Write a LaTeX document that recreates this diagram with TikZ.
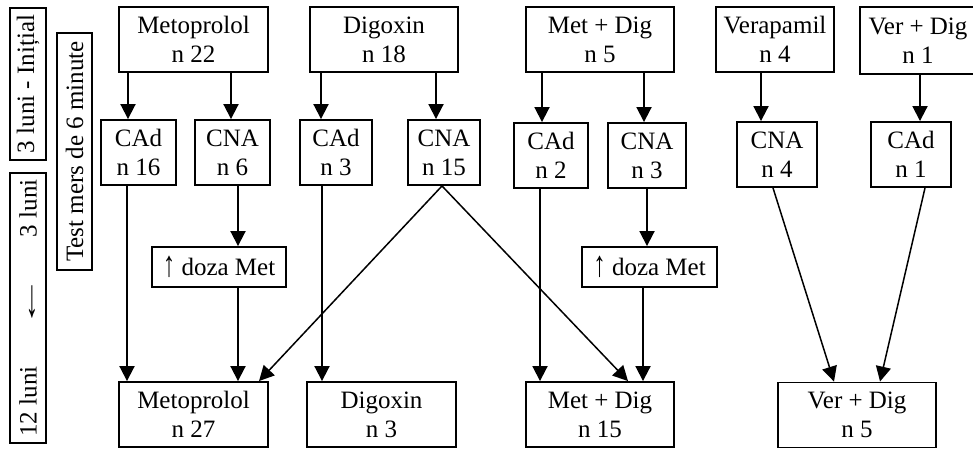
\documentclass[tikz,border=0pt]{standalone}
\usepackage{fontspec}
\usepackage{graphicx}
\setmainfont{Liberation Serif}
\usetikzlibrary{arrows.meta}
\newcommand{\dfont}{\fontsize{25pt}{29pt}\selectfont}
\newcommand{\uparr}{\raisebox{-1pt}{\scalebox{1}[1.45]{↑}}}
\newcommand{\leftarr}{\scalebox{2.2}[1]{←}}
\tikzset{
  box/.style={draw, line width=1.9pt, inner sep=0pt, align=center, font=\dfont},
  arr/.style={line width=1.9pt, -{Triangle[width=15pt,length=15pt]}},
  darr/.style={line width=1.5pt, -{Triangle[width=15pt,length=15pt]}}
}
\begin{document}
\begin{tikzpicture}[x=1pt,y=-1pt]
\useasboundingbox (0,0) rectangle (973,448);
% side labels
\node[box, rotate=90, minimum width=152pt, minimum height=36pt] (ini) at (28,84) {3 luni - Inițial};
\node[box, rotate=90, minimum width=270pt, minimum height=36pt] (luni) at (28,308) {\makebox[257pt]{12 luni\hfill \leftarr\hfill 3 luni}};
\node[box, rotate=90, minimum width=237pt, minimum height=35pt] (test) at (74.5,151.5) {Test mers de 6 minute};
% top row
\node[box, minimum width=149pt, minimum height=65pt] (met1) at (193.5,39.5) {Metoprolol\\n 22};
\node[box, minimum width=148pt, minimum height=65pt] (dig1) at (384,39.5) {Digoxin\\n 18};
\node[box, minimum width=148pt, minimum height=65pt] (md1) at (600,39.5) {Met + Dig\\n 5};
\node[box, minimum width=118pt, minimum height=65pt] (ver1) at (775,39.5) {Verapamil\\n 4};
\node[box, minimum width=116pt, minimum height=67pt] (vd1) at (918,40.5) {Ver + Dig\\n 1};
% middle row
\node[box, minimum width=75pt, minimum height=65pt] (cad1) at (138.5,152.5) {CAd\\n 16};
\node[box, minimum width=75pt, minimum height=65pt] (cna1) at (232.5,152.5) {CNA\\n 6};
\node[box, minimum width=72pt, minimum height=65pt] (cad2) at (336,152.5) {CAd\\n 3};
\node[box, minimum width=72pt, minimum height=65pt] (cna2) at (444,152.5) {CNA\\n 15};
\node[box, minimum width=74pt, minimum height=65pt] (cad3) at (551,155.5) {CAd\\n 2};
\node[box, minimum width=78pt, minimum height=65pt] (cna3) at (647,155.5) {CNA\\n 3};
\node[box, minimum width=80pt, minimum height=65pt] (cna4) at (777,154.5) {CNA\\n 4};
\node[box, minimum width=80pt, minimum height=65pt] (cad5) at (911,154.5) {CAd\\n 1};
% dose boxes
\node[box, minimum width=134pt, minimum height=40pt] (doz1) at (219,267) {\uparr{} doza Met};
\node[box, minimum width=135pt, minimum height=40pt] (doz2) at (649.5,267) {\uparr{} doza Met};
% bottom row
\node[box, minimum width=149pt, minimum height=65pt] (met2) at (193.5,414.5) {Metoprolol\\n 27};
\node[box, minimum width=149pt, minimum height=65pt] (dig2) at (381.5,414.5) {Digoxin\\n 3};
\node[box, minimum width=148pt, minimum height=65pt] (md2) at (600,414.5) {Met + Dig\\n 15};
\node[box, minimum width=158pt, minimum height=65pt] (vd2) at (857,415) {Ver + Dig\\n 5};
% arrows top -> middle
\draw[arr] (met1.south -| 128,0) -- (cad1.north -| 128,0);
\draw[arr] (met1.south -| 231,0) -- (cna1.north -| 231,0);
\draw[arr] (dig1.south -| 321,0) -- (cad2.north -| 321,0);
\draw[arr] (dig1.south -| 436,0) -- (cna2.north -| 436,0);
\draw[arr] (md1.south -| 542,0) -- (cad3.north -| 542,0);
\draw[arr] (md1.south -| 644,0) -- (cna3.north -| 644,0);
\draw[arr] (ver1.south -| 761,0) -- (cna4.north -| 761,0);
\draw[arr] (vd1.south -| 920,0) -- (cad5.north -| 920,0);
% middle -> bottom
\draw[arr] (cad1.south -| 127,0) -- (met2.north -| 127,0);
\draw[arr] (cna1.south -| 238,0) -- (doz1.north -| 238,0);
\draw[arr] (doz1.south -| 238,0) -- (met2.north -| 238,0);
\draw[arr] (cad2.south -| 322,0) -- (dig2.north -| 322,0);
\draw[darr] (cna2.south -| 442,0) -- (met2.north -| 259,0);
\draw[darr] (cna2.south -| 442,0) -- (md2.north -| 628,0);
\draw[arr] (cad3.south -| 540,0) -- (md2.north -| 540,0);
\draw[arr] (cna3.south -| 647,0) -- (doz2.north -| 647,0);
\draw[arr] (doz2.south -| 643,0) -- (md2.north -| 643,0);
\draw[darr] (cna4.south -| 773,0) -- (vd2.north -| 834,0);
\draw[darr] (cad5.south -| 925,0) -- (vd2.north -| 880,0);
\end{tikzpicture}
\end{document}
